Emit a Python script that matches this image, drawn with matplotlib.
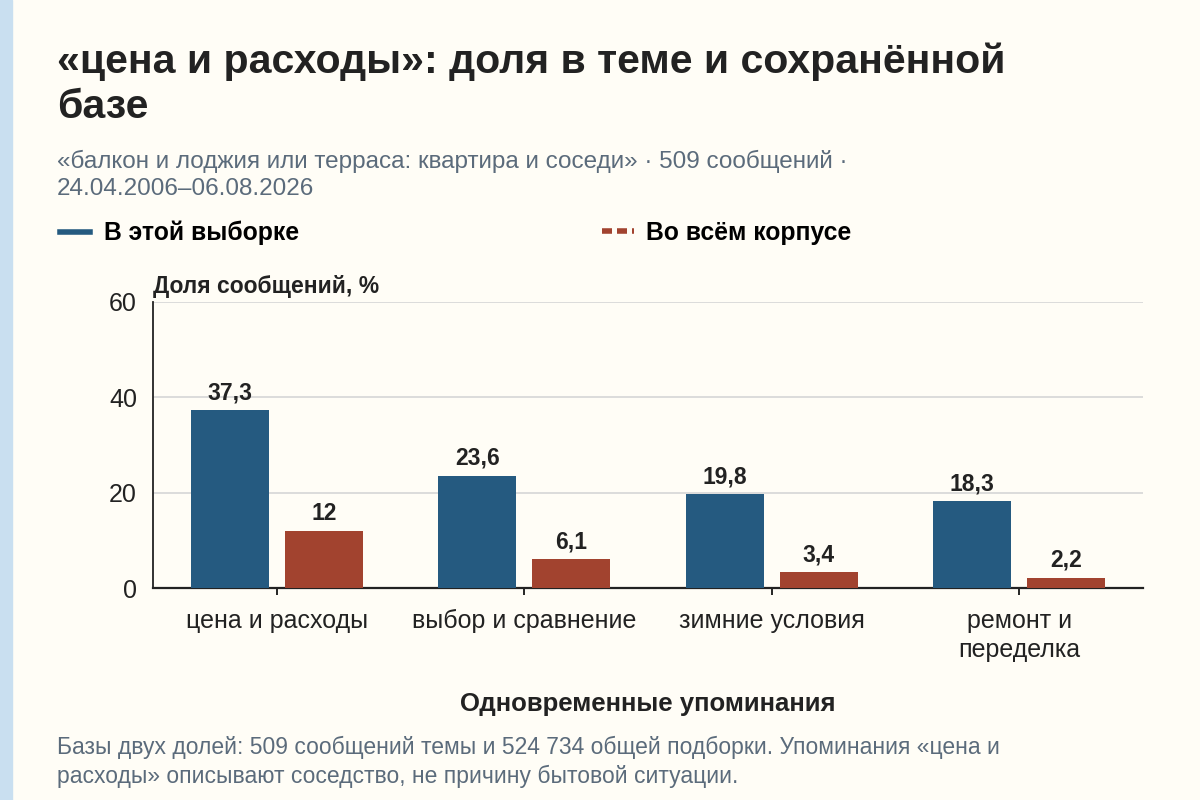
import numpy as np
import matplotlib.pyplot as plt
from matplotlib.lines import Line2D
from matplotlib.patches import Rectangle

# Data
categories = ['цена и расходы', 'выбор и сравнение', 'зимние условия', 'ремонт и\nпеределка']
sample_share = [37.3, 23.6, 19.8, 18.3]
corpus_share = [12, 6.1, 3.4, 2.2]
sample_labels = ['37,3', '23,6', '19,8', '18,3']
corpus_labels = ['12', '6,1', '3,4', '2,2']

BLUE = '#255a80'
RED = '#a2432f'
BG = '#fffdf6'
INK = '#222222'
GREY = '#5b6b7b'

plt.rcParams['font.family'] = ['Liberation Sans', 'DejaVu Sans']

fig = plt.figure(figsize=(12, 8), dpi=100, facecolor=BG)
fig.patches.append(Rectangle((0, 0), 12 / 1200, 1, transform=fig.transFigure,
                             color='#c9dff0', zorder=0))

# Titles
fig.text(57 / 1200, 1 - 84 / 800, '«цена и расходы»: доля в теме и сохранённой\nбазе',
         fontsize=29.5, fontweight='bold', color=INK, va='center', ha='left', linespacing=1.22)
fig.text(57 / 1200, 1 - 175 / 800,
         '«балкон и лоджия или терраса: квартира и соседи» · 509 сообщений ·\n24.04.2006–06.08.2026',
         fontsize=17.5, color=GREY, va='center', ha='left', linespacing=1.3)

# Legend
handles = [Line2D([], [], color=BLUE, lw=4),
           Line2D([], [], color=RED, lw=4, ls=(0, (1.8, 0.9)))]
fig.legend(handles[:1], ['В этой выборке'], loc='center left',
           bbox_to_anchor=(38 / 1200, 1 - 233 / 800), frameon=False,
           prop={'weight': 'bold', 'size': 17.8}, handlelength=1.2, handletextpad=0.55)
fig.legend(handles[1:], ['Во всём корпусе'], loc='center left',
           bbox_to_anchor=(580 / 1200, 1 - 233 / 800), frameon=False,
           prop={'weight': 'bold', 'size': 17.8}, handlelength=1.3, handletextpad=0.45)

ax = fig.add_axes([153 / 1200, 1 - 588 / 800, 990 / 1200, 286 / 800])
ax.set_facecolor(BG)

x = np.arange(len(categories))
w = 0.315
b1 = ax.bar(x - 0.19, sample_share, w, color=BLUE, zorder=3)
b2 = ax.bar(x + 0.19, corpus_share, w, color=RED, zorder=3)
ax.bar_label(b1, labels=sample_labels, padding=4, fontsize=16.5, fontweight='bold', color=INK)
ax.bar_label(b2, labels=corpus_labels, padding=4, fontsize=16.5, fontweight='bold', color=INK)

ax.set_xlim(-0.5, 3.5)
ax.set_ylim(0, 60)
ax.set_yticks([0, 20, 40, 60])
ax.yaxis.grid(True, color='#d6d6d6', lw=1.2, zorder=0)
ax.set_axisbelow(True)
ax.set_xticks(x)
ax.set_xticklabels(categories, fontsize=18, color=INK, linespacing=1.25)
ax.tick_params(axis='x', length=5, width=1.2, pad=10)
ax.tick_params(axis='y', length=0, labelsize=18, labelcolor=INK, pad=11.5)
for s in ['top', 'right']:
    ax.spines[s].set_visible(False)
ax.spines['left'].set_color(INK)
ax.spines['bottom'].set_color(INK)
ax.spines['left'].set_linewidth(1.3)
ax.spines['bottom'].set_linewidth(1.6)

ax.text(0, 1.014, 'Доля сообщений, %', transform=ax.transAxes, fontsize=16.5,
        fontweight='bold', color=INK, ha='left', va='bottom')
ax.set_xlabel('Одновременные упоминания', fontsize=18.5, fontweight='bold',
              color=INK, labelpad=22)

fig.text(57 / 1200, 1 - 762 / 800,
         'Базы двух долей: 509 сообщений темы и 524 734 общей подборки. Упоминания «цена и\n'
         'расходы» описывают соседство, не причину бытовой ситуации.',
         fontsize=16.5, color=GREY, va='center', ha='left', linespacing=1.3)

fig.savefig('out.png', dpi=100, facecolor=BG)
